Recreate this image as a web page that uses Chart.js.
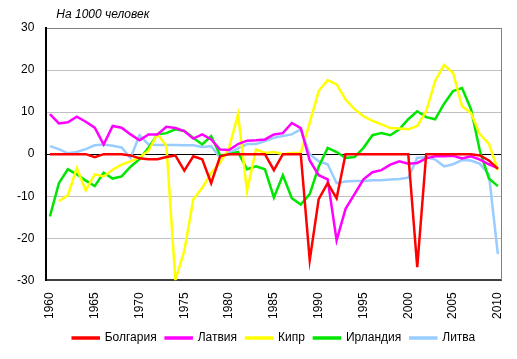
<!DOCTYPE html>
<html><head><meta charset="utf-8">
<script src="https://cdn.jsdelivr.net/npm/chart.js@4"></script>
<style>html,body{margin:0;padding:0;background:#fff;}#wrap{width:517px;height:359px;}</style>
</head><body><div id="wrap"><canvas id="c" width="517" height="359"></canvas></div>
<script>
const years = [];
for (let y = 1960; y <= 2010; y++) years.push(y);
const tickYears = [1960, 1965, 1970, 1975, 1980, 1985, 1990, 1995, 2000, 2005, 2010];
const yTicks = [-30, -20, -10, 0, 10, 20, 30];
const unitLabel = 'На 1000 человек';
const seriesNames = ['Болгария', 'Латвия', 'Кипр', 'Ирландия', 'Литва'];

const bulgaria = [0,0,0,0,0,-0.7,0,0,0,-0.3, -1,-1.2,-1.2,-0.7,-0.3,-3.9,-0.5,-1.2,-6.9,-0.5,
  0,0,0,0,0,-3.8,0,0,0,-25.2, -10.7,-6.9,-10.5,0,0,0,0,0,0,0,
  0,-26.9,0,0,0,0,0,0,-0.3,-1.5, -3.5];
const latvia = [9.5,7.3,7.6,8.9,7.7,6.3,2.3,6.7,6.3,4.7, 3.3,4.7,4.7,6.5,6.2,5.5,3.7,4.7,3.5,1.1,
  1,2.4,3.2,3.3,3.5,4.7,5,7.4,6.2,-1.5, -5,-6,-20.5,-13,-9.5,-6,-4.3,-3.8,-2.5,-1.7,
  -2.3,-2.1,-1,-0.5,-0.5,-0.4,-1,-0.5,-1.3,-2.4, -3.3];
const cyprus = [null,-11.2,-9.8,-3.3,-8.6,-4.8,-5.3,-3.7,-2.5,-1.7, -0.8,0.8,4.8,2,-30,-23,-10.8,-8,-4.5,-2,
  1.5,9.5,-8.8,1.1,0.3,0.5,0,0.3,0.3,7.5, 15,17.6,16.6,13,10.7,9,7.9,7.1,6.2,6.1,
  5.9,6.7,10.2,17.4,21.2,19.3,11.4,9.8,4.7,2.5, -3.8];
const ireland = [-14.8,-6.9,-3.6,-4.8,-6.3,-7.6,-4.4,-5.8,-5.3,-3, -1.2,1.5,4.7,5,5.9,5.5,3.9,2.3,4.3,-0.3,
  0,0.5,-3.6,-2.9,-3.6,-10.3,-5,-10.5,-12,-9.5, -3,1.5,0.5,-0.9,-0.7,1.5,4.5,5,4.5,5.9,
  8.3,10.2,8.8,8.3,12,15,15.7,10.7,0.7,-5.8, -7.6];
const lithuania = [1.9,1.2,0.2,0.5,1.2,2.1,2.3,2,1.6,-0.9, 4.5,2.3,2.2,2.2,2.2,2.1,2.1,1.7,1.9,-0.9,
  0.3,1.4,2.4,2.4,3.1,3.9,4.3,4.7,5.9,0, -1.7,-2.4,-6.9,-6.5,-6.4,-6.4,-6.2,-6.2,-6,-5.9,
  -5.6,-0.9,-0.7,-1.3,-2.9,-2.4,-1.4,-1.5,-2.3,-4.8, -23.8];

const seriesValues = [bulgaria, latvia, cyprus, ireland, lithuania];
const colors = ['#FF0000', '#FF00FF', '#FFFF00', '#00E600', '#99CCFF'];
const FONT = '"Liberation Sans", Arial, sans-serif';

const datasets = seriesNames.map((name, i) => ({
  label: name,
  data: years.map((yr, j) => ({x: yr, y: seriesValues[i][j]})),
  borderColor: colors[i],
  backgroundColor: colors[i],
  borderWidth: 2.5,
  pointRadius: 0,
  tension: 0,
  spanGaps: false
}));

const framePlugin = {
  id: 'frame',
  afterLayout(chart) {
    const lg = chart.legend;
    if (lg) { lg.left += 21; lg.right += 21; lg.top += 4; lg.bottom += 4; }
  },
  beforeDatasetsDraw(chart) {
    const {ctx, chartArea: a} = chart;
    ctx.save();
    ctx.strokeStyle = '#808080';
    ctx.lineWidth = 1;
    ctx.beginPath();
    ctx.moveTo(Math.round(a.right) + 0.5, a.top);
    ctx.lineTo(Math.round(a.right) + 0.5, a.bottom);
    ctx.stroke();
    ctx.restore();
  },
  afterDraw(chart) {
    const {ctx, chartArea: a} = chart;
    ctx.save();
    ctx.font = 'italic 12px ' + FONT;
    ctx.fillStyle = '#000';
    ctx.textBaseline = 'middle';
    ctx.textAlign = 'left';
    ctx.fillText(unitLabel, a.left + 10, 15);
    ctx.restore();
  }
};

new Chart(document.getElementById('c'), {
  type: 'line',
  data: {datasets},
  plugins: [framePlugin],
  options: {
    responsive: false,
    animation: false,
    devicePixelRatio: 1,
    layout: {padding: {left: 5, right: 16, top: 28, bottom: 9}},
    plugins: {
      legend: {
        position: 'bottom',
        labels: {boxWidth: 26, boxHeight: 1, padding: 9, color: '#000', font: {family: FONT, size: 12}}
      },
      tooltip: {enabled: false}
    },
    scales: {
      x: {
        type: 'linear',
        min: 1959.6,
        max: 2010.35,
        afterBuildTicks: (axis) => { axis.ticks = tickYears.map(v => ({value: v})); },
        ticks: {
          autoSkip: false, maxRotation: 90, minRotation: 90, padding: 0,
          color: '#000', font: {family: FONT, size: 12},
          callback: (v) => String(v)
        },
        grid: {display: true, drawOnChartArea: false, drawTicks: true, tickLength: 12, tickColor: 'rgba(0,0,0,0)'},
        border: {display: true, color: '#404040', width: 2}
      },
      y: {
        min: -30, max: 30,
        afterBuildTicks: (axis) => { axis.ticks = yTicks.map(v => ({value: v})); },
        ticks: {padding: 12, color: '#000', font: {family: FONT, size: 12}},
        grid: {
          drawTicks: false,
          color: (c) => c.tick.value === 0 ? '#000000' : (c.tick.value === 30 ? '#808080' : '#C0C0C0'),
          lineWidth: 1
        },
        border: {display: true, color: '#000', width: 2}
      }
    }
  }
});
</script>
</body></html>
